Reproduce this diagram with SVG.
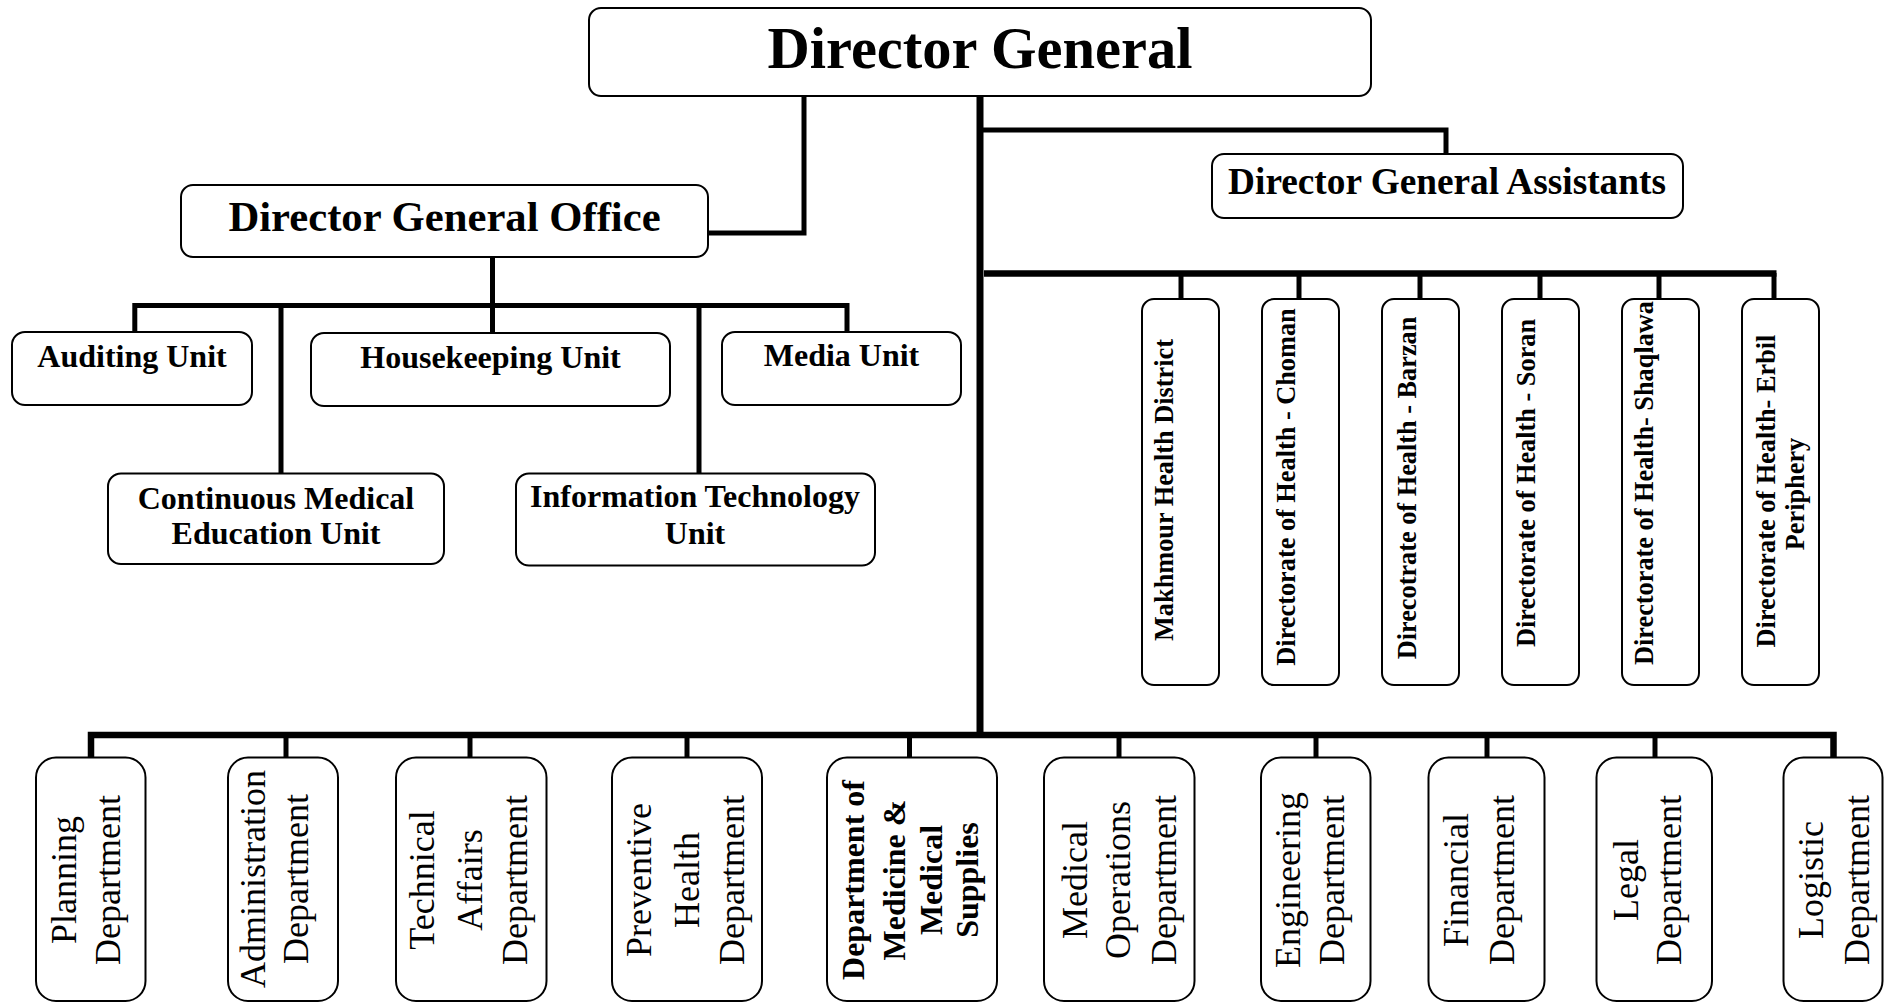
<svg xmlns="http://www.w3.org/2000/svg" width="1885" height="1003" viewBox="0 0 1885 1003">
<style>
  .box { fill: #ffffff; stroke: #000000; stroke-width: 2; }
  .ln { fill: none; stroke: #000000; stroke-width: 5; stroke-linejoin: miter; stroke-linecap: butt; }
  .thick { stroke-width: 7; }
  .bus { stroke-width: 6.5; }
  .t { font-family: "Liberation Serif", "Times New Roman", serif; fill: #000000; text-anchor: middle; }
  .b { font-weight: bold; }
  .title { font-size: 58.5px; }
  .dgo { font-size: 42.7px; }
  .asst { font-size: 37.3px; }
  .unit { font-size: 32px; }
  .hd { font-size: 26.3px; }
  .dept { font-size: 36px; }
  .deptb { font-size: 32px; }
</style>
<rect width="1885" height="1003" fill="#ffffff"/>

<g id="connectors">
  <polyline class="ln" points="804,96 804,233 708,233"/>
  <line class="ln thick" x1="980" y1="96" x2="980" y2="738"/>
  <polyline class="ln" points="980,130 1446,130 1446,154"/>
  <line class="ln bus" x1="984" y1="273.5" x2="1776.5" y2="273.5"/>
  <line class="ln" x1="1181" y1="273" x2="1181" y2="299"/>
  <line class="ln" x1="1299" y1="273" x2="1299" y2="299"/>
  <line class="ln" x1="1420" y1="273" x2="1420" y2="299"/>
  <line class="ln" x1="1540" y1="273" x2="1540" y2="299"/>
  <line class="ln" x1="1659" y1="273" x2="1659" y2="299"/>
  <line class="ln" x1="1774" y1="273" x2="1774" y2="299"/>
  <line class="ln" x1="492.5" y1="257" x2="492.5" y2="305"/>
  <polyline class="ln" points="134.8,332 134.8,305.5 847,305.5 847,332"/>
  <line class="ln" x1="281" y1="305" x2="281" y2="473.5"/>
  <line class="ln" x1="492.5" y1="305" x2="492.5" y2="333"/>
  <line class="ln" x1="699" y1="305" x2="699" y2="473.5"/>
  <polyline class="ln bus" points="91,757.5 91,735 1833.5,735 1833.5,757.5"/>
  <line class="ln" x1="286" y1="735" x2="286" y2="757.5"/>
  <line class="ln" x1="470" y1="735" x2="470" y2="757.5"/>
  <line class="ln" x1="687" y1="735" x2="687" y2="757.5"/>
  <line class="ln" x1="909.5" y1="735" x2="909.5" y2="757.5"/>
  <line class="ln" x1="1119" y1="735" x2="1119" y2="757.5"/>
  <line class="ln" x1="1316" y1="735" x2="1316" y2="757.5"/>
  <line class="ln" x1="1487" y1="735" x2="1487" y2="757.5"/>
  <line class="ln" x1="1655" y1="735" x2="1655" y2="757.5"/>
</g>

<g id="director-general">
  <rect class="box" x="589" y="8" width="782" height="88" rx="12"/>
  <text class="t b title" x="980" y="68">Director General</text>
</g>

<g id="director-general-office">
  <rect class="box" x="181" y="185" width="527" height="72" rx="12"/>
  <text class="t b dgo" x="444.5" y="231">Director General Office</text>
</g>

<g id="director-general-assistants">
  <rect class="box" x="1212" y="154" width="471" height="64" rx="12"/>
  <text class="t b asst" x="1447" y="194">Director General Assistants</text>
</g>

<g id="auditing-unit">
  <rect class="box" x="12" y="332" width="240" height="73" rx="13"/>
  <text class="t b unit" x="132" y="367">Auditing Unit</text>
</g>
<g id="housekeeping-unit">
  <rect class="box" x="311" y="333" width="359" height="73" rx="13"/>
  <text class="t b unit" x="490.5" y="368">Housekeeping Unit</text>
</g>
<g id="media-unit">
  <rect class="box" x="722" y="332" width="239" height="73" rx="13"/>
  <text class="t b unit" x="841.5" y="366">Media Unit</text>
</g>
<g id="cme-unit">
  <rect class="box" x="108" y="473.5" width="336" height="90.5" rx="13"/>
  <text class="t b unit" x="276" y="508.5">Continuous Medical</text>
  <text class="t b unit" x="276" y="544">Education Unit</text>
</g>
<g id="it-unit">
  <rect class="box" x="516" y="473.5" width="359" height="92" rx="13"/>
  <text class="t b unit" x="695" y="507">Information Technology</text>
  <text class="t b unit" x="695" y="544">Unit</text>
</g>

<g id="makhmour">
  <rect class="box" x="1142" y="299" width="77" height="386" rx="12"/>
  <text class="t b hd" transform="translate(1173,490) rotate(-90)">Makhmour Health District</text>
</g>
<g id="choman">
  <rect class="box" x="1262" y="299" width="77" height="386" rx="12"/>
  <text class="t b hd" transform="translate(1294.5,487) rotate(-90)">Directorate of Health - Choman</text>
</g>
<g id="barzan">
  <rect class="box" x="1382" y="299" width="77" height="386" rx="12"/>
  <text class="t b hd" transform="translate(1416,488) rotate(-90)">Direcotrate of Health - Barzan</text>
</g>
<g id="soran">
  <rect class="box" x="1502" y="299" width="77" height="386" rx="12"/>
  <text class="t b hd" transform="translate(1535,483) rotate(-90)">Directorate of Health - Soran</text>
</g>
<g id="shaqlawa">
  <rect class="box" x="1622" y="299" width="77" height="386" rx="12"/>
  <text class="t b hd" transform="translate(1653,483) rotate(-90)">Directorate of Health- Shaqlawa</text>
</g>
<g id="erbil-periphery">
  <rect class="box" x="1742" y="299" width="77" height="386" rx="12"/>
  <text class="t b hd" transform="translate(1775,491) rotate(-90)">Directorate of Health- Erbil</text>
  <text class="t b hd" transform="translate(1804,494) rotate(-90)">Periphery</text>
</g>

<g id="planning">
  <rect class="box" x="36" y="757.5" width="109.5" height="243.5" rx="20"/>
  <text class="t dept" transform="translate(76,880) rotate(-90)">Planning</text>
  <text class="t dept" transform="translate(120,880) rotate(-90)">Department</text>
</g>
<g id="administration">
  <rect class="box" x="228" y="757.5" width="110" height="243.5" rx="20"/>
  <text class="t dept" transform="translate(265,879) rotate(-90)">Administration</text>
  <text class="t dept" transform="translate(308,879) rotate(-90)">Department</text>
</g>
<g id="technical-affairs">
  <rect class="box" x="396" y="757.5" width="150.5" height="243.5" rx="20"/>
  <text class="t dept" transform="translate(434,880) rotate(-90)">Technical</text>
  <text class="t dept" transform="translate(482,880) rotate(-90)">Affairs</text>
  <text class="t dept" transform="translate(527,880) rotate(-90)">Department</text>
</g>
<g id="preventive-health">
  <rect class="box" x="612" y="757.5" width="150" height="243.5" rx="20"/>
  <text class="t dept" transform="translate(651,880) rotate(-90)">Preventive</text>
  <text class="t dept" transform="translate(699,880) rotate(-90)">Health</text>
  <text class="t dept" transform="translate(743.5,880) rotate(-90)">Department</text>
</g>
<g id="medicine-supplies">
  <rect class="box" x="827" y="757.5" width="170" height="243.5" rx="20"/>
  <text class="t b deptb" transform="translate(864,880) rotate(-90)">Department of</text>
  <text class="t b deptb" transform="translate(905,880) rotate(-90)">Medicine &amp;</text>
  <text class="t b deptb" transform="translate(942,880) rotate(-90)">Medical</text>
  <text class="t b deptb" transform="translate(978,880) rotate(-90)">Supplies</text>
</g>
<g id="medical-operations">
  <rect class="box" x="1044" y="757.5" width="150.5" height="243.5" rx="20"/>
  <text class="t dept" transform="translate(1087,880) rotate(-90)">Medical</text>
  <text class="t dept" transform="translate(1130,880) rotate(-90)">Operations</text>
  <text class="t dept" transform="translate(1176,880) rotate(-90)">Department</text>
</g>
<g id="engineering">
  <rect class="box" x="1261" y="757.5" width="109.5" height="243.5" rx="20"/>
  <text class="t dept" transform="translate(1300,880) rotate(-90)">Engineering</text>
  <text class="t dept" transform="translate(1343.5,880) rotate(-90)">Department</text>
</g>
<g id="financial">
  <rect class="box" x="1428.5" y="757.5" width="116" height="243.5" rx="20"/>
  <text class="t dept" transform="translate(1467.5,880) rotate(-90)">Financial</text>
  <text class="t dept" transform="translate(1513.5,880) rotate(-90)">Department</text>
</g>
<g id="legal">
  <rect class="box" x="1596.5" y="757.5" width="115.5" height="243.5" rx="20"/>
  <text class="t dept" transform="translate(1638,880) rotate(-90)">Legal</text>
  <text class="t dept" transform="translate(1681,880) rotate(-90)">Department</text>
</g>
<g id="logistic">
  <rect class="box" x="1783.5" y="757.5" width="99" height="243.5" rx="20"/>
  <text class="t dept" transform="translate(1822.5,880) rotate(-90)">Logistic</text>
  <text class="t dept" transform="translate(1869,880) rotate(-90)">Department</text>
</g>
</svg>
